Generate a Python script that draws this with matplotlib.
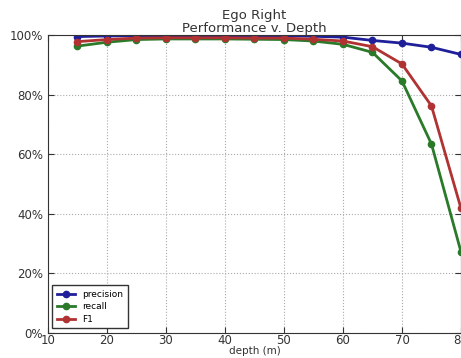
import matplotlib
matplotlib.use('Agg')
import matplotlib.pyplot as plt
from matplotlib.ticker import FuncFormatter

# depth in metres and the three scores (percent)
depth = [15, 20, 25, 30, 35, 40, 45, 50, 55, 60, 65, 70, 75, 80]
precision = [99.5, 99.7, 99.8, 99.8, 99.8, 99.8, 99.8, 99.8, 99.6, 99.3, 98.2, 97.3, 95.9, 93.5]
recall = [96.3, 97.6, 98.5, 98.7, 98.7, 98.7, 98.6, 98.5, 98.0, 96.9, 94.2, 84.6, 63.4, 27.2]
f1 = [97.8, 98.5, 99.0, 99.1, 99.1, 99.1, 99.0, 99.0, 98.6, 98.0, 96.1, 90.3, 76.2, 41.8]

series_labels = ['precision', 'recall', 'F1']
title = 'Ego Right\nPerformance v. Depth'

fig = plt.figure(figsize=(4.61, 3.58), dpi=100)
ax = fig.add_axes([0.104, 0.07, 0.896, 0.832])

colors = ['#1f1f9a', '#2a7a2a', '#b03232']
for vals, lab, c in zip([precision, recall, f1], series_labels, colors):
    ax.plot(depth, vals, 'o-', color=c, lw=2, ms=4.5, label=lab, mec=c)

ax.set_xlim(10, 80)
ax.set_ylim(0, 100)
ax.set_xticks(range(10, 81, 10))
ax.set_yticks(range(0, 101, 20))
ax.yaxis.set_major_formatter(FuncFormatter(lambda v, p: '%d%%' % v))
ax.tick_params(direction='in', top=True, right=True, labelsize=8.5, colors='#333333', length=4)
ax.tick_params(axis='x', pad=1)
ax.grid(True, linestyle=':', color='#aaaaaa', lw=0.8)
ax.set_xlabel('depth (m)', fontsize=7.5, labelpad=-1, color='#333333')
ax.set_title(title, fontsize=9.5, pad=2, linespacing=1.0, color='#333333')
for s in ax.spines.values():
    s.set_color('#333333')
leg = ax.legend(loc='lower left', fontsize=6.5, handlelength=2, borderpad=0.5,
                labelspacing=0.4, fancybox=False, framealpha=1)
leg.get_frame().set_edgecolor('#333333')

fig.savefig('out.png', dpi=100)
